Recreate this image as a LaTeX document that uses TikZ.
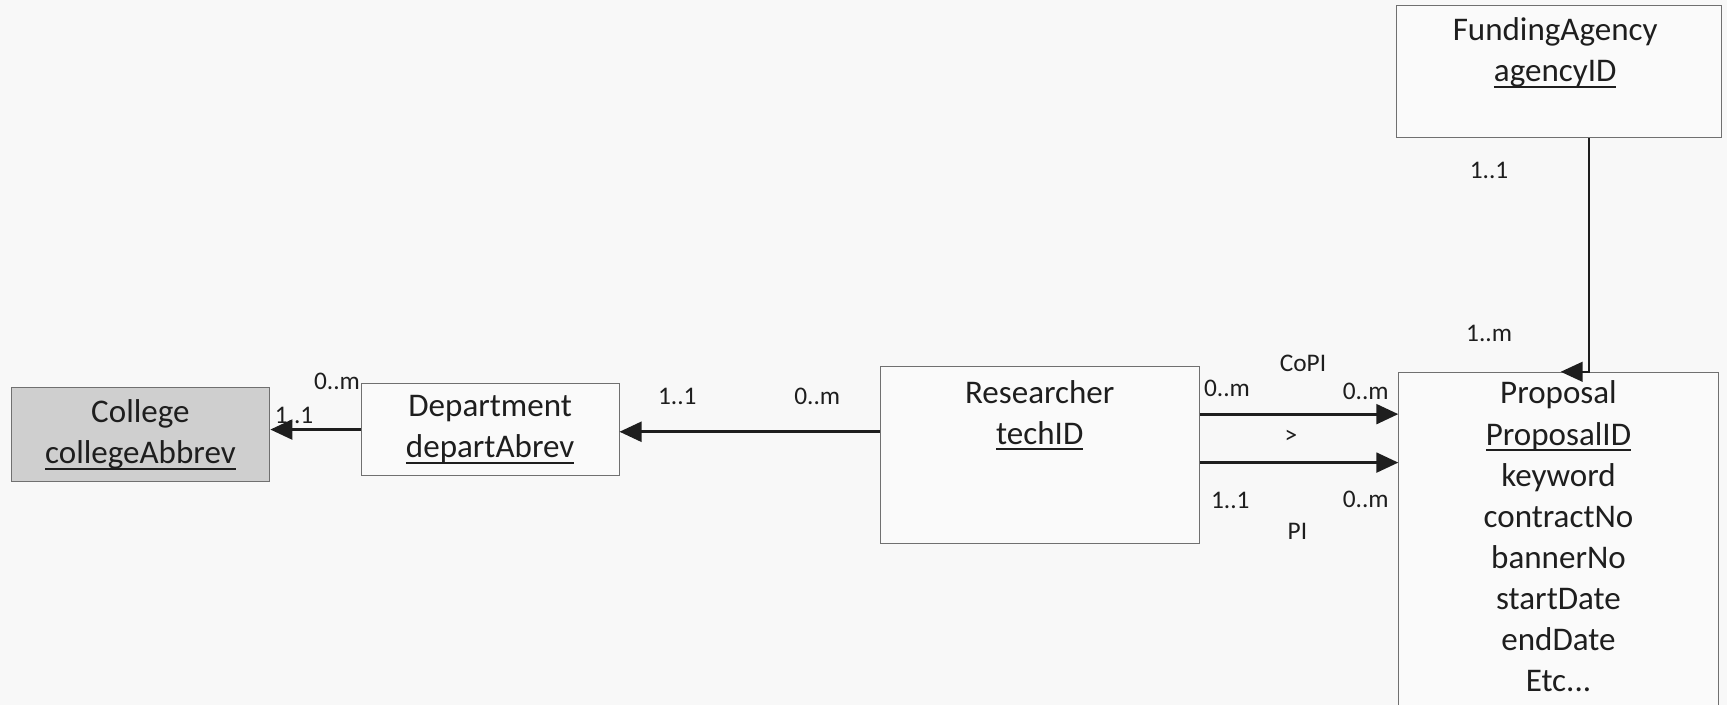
\documentclass[tikz,border=0pt]{standalone}
\usepackage{fontspec}
\setmainfont{Carlito}
\usetikzlibrary{arrows.meta}
\definecolor{bg}{HTML}{F8F8F8}
\definecolor{boxline}{HTML}{707070}
\definecolor{collegefill}{HTML}{CFCFCF}
\definecolor{ink}{HTML}{1E1E1E}
% key attribute: text with a heavy rule beneath it
\newcommand\keyattr[1]{\setbox0\hbox{#1}\rlap{\rule[-5.5pt]{\wd0}{1.8pt}}\box0}
\tikzset{
  entity/.style={draw=boxline, line width=0.9pt, fill=white!98!black, inner sep=0pt,
    align=center, text=ink, font=\fontsize{30}{37.3}\selectfont},
  etext/.style={align=center, text=ink, inner sep=0pt, font=\fontsize{30}{37.3}\selectfont},
  card/.style={text=ink, inner sep=0pt, font=\fontsize{23}{27}\selectfont},
  rel/.style={draw=ink, line width=2.6pt, -{Triangle[length=20pt,width=18pt]}},
  relthin/.style={draw=ink, line width=2pt, -{Triangle[length=20pt,width=18pt]}}
}
\begin{document}
\begin{tikzpicture}[x=1pt,y=-1pt]
\useasboundingbox[fill=bg] (0,0) rectangle (1568,640);

% entities
\node[entity, fill=collegefill, minimum width=235pt, minimum height=85pt] (college) at (127.5,394.5)
  {College\\\keyattr{collegeAbbrev}};
\node[entity, minimum width=234pt, minimum height=84pt] (department) at (445,390)
  {Department\\\keyattr{departAbrev}};
\node[entity, minimum width=290pt, minimum height=160pt] (researcher) at (944,413) {};
\node[etext] (researcher-t) at (944,377) {Researcher\\\keyattr{techID}};
\node[entity, minimum width=290pt, minimum height=310pt] (proposal) at (1415,493) {};
\node[etext] (proposal-t) at (1415,487)
  {Proposal\\\keyattr{ProposalID}\\keyword\\contractNo\\bannerNo\\startDate\\endDate\\Etc...};
\node[entity, minimum width=295pt, minimum height=120pt] (fa) at (1415.5,65) {};
\node[etext] (fa-t) at (1412,48) {FundingAgency\\\keyattr{agencyID}};

% relationships
\draw[rel] (department.west) -- (department.west -| college.east);
\coordinate (r1) at ([yshift=21pt]researcher.west);
\draw[rel] (r1) -- (r1 -| department.east);
\coordinate (r2) at ([yshift=37pt]researcher.east);
\draw[rel] (r2) -- (r2 -| proposal.west);
\coordinate (r3) at ([yshift=-7pt]researcher.east);
\draw[rel] (r3) -- (r3 -| proposal.west);
\coordinate (f1) at ([xshift=27.5pt]fa.south);
\draw[relthin] (f1) -- (f1 |- proposal.north) -- ++(-26,0);

% cardinalities and role names
\node[card] (c1) at (306,346) {0..m};
\node[card] (c2) at (267,377) {1..1};
\node[card] (c3) at (615,360) {1..1};
\node[card] (c4) at (742,360) {0..m};
\node[card] (c5) at (1183,330) {CoPI};
\node[card] (c6) at (1114,353) {0..m};
\node[card] (c7) at (1240,355) {0..m};
\node[card] (c8) at (1172,397) {>};
\node[card] (c9) at (1117,454) {1..1};
\node[card] (c10) at (1240,453) {0..m};
\node[card] (c11) at (1178,482) {PI};
\node[card] (c12) at (1352,155) {1..1};
\node[card] (c13) at (1352,303) {1..m};
\end{tikzpicture}
\end{document}
